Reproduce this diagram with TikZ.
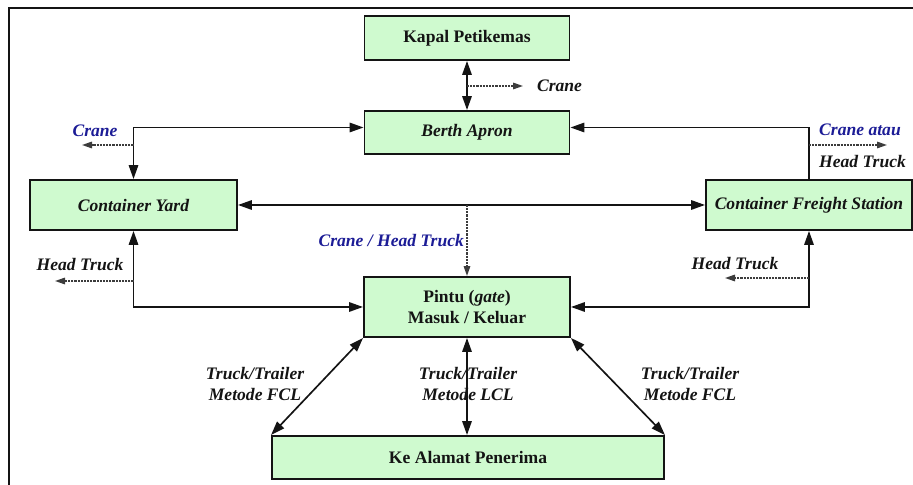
\documentclass[tikz,border=0pt]{standalone}
\usepackage{fontspec}
\setmainfont{Liberation Serif}
\usetikzlibrary{arrows.meta,positioning,calc}
\definecolor{ptkInk}{RGB}{20,20,20}
\definecolor{ptkGreen}{RGB}{207,250,207}
\definecolor{ptkBlue}{RGB}{28,28,150}
\definecolor{ptkDash}{RGB}{60,60,60}
\tikzset{
  pbox/.style={draw=ptkInk, fill=ptkGreen, line width=1.1pt, inner sep=0pt,
    align=center, font=\rmfamily\bfseries\fontsize{10}{12.5}\selectfont,
    text=ptkInk},
  pflow/.style={{Triangle[length=2.8mm,width=1.9mm]}-{Triangle[length=2.8mm,width=1.9mm]},
    line width=.95pt, draw=ptkInk},
  ponly/.style={-{Triangle[length=2.8mm,width=1.9mm]}, line width=.95pt, draw=ptkInk},
  pdash/.style={-{Triangle[length=2mm,width=1.3mm]}, line width=.9pt,
    draw=ptkDash, dash pattern=on 1.2pt off .6pt},
  plabel/.style={font=\rmfamily\bfseries\itshape\fontsize{10}{12.5}\selectfont,
    text=ptkInk, align=center, inner sep=1pt}
}

\begin{document}
\begin{tikzpicture}[
  blue/.style={plabel, text=ptkBlue}
]
\path[use as bounding box] (0,0) rectangle (18.26,9.70);
\draw[line width=1.2pt, draw=ptkInk] (0.18,0) -- (0.18,9.54) -- (18.26,9.54);

\node[pbox, minimum width=4.10cm, minimum height=.88cm] (kapal) at (9.34,8.94) {Kapal Petikemas};
\node[pbox, minimum width=4.10cm, minimum height=.86cm] (berth) at (9.34,7.05) {\itshape Berth Apron};
\node[pbox, minimum width=4.14cm, minimum height=1.00cm] (yard) at (2.67,5.60) {\itshape Container Yard};
\node[pbox, minimum width=4.12cm, minimum height=1.00cm] (cfs) at (16.18,5.60) {\itshape Container Freight Station};
\node[pbox, minimum width=4.12cm, minimum height=1.20cm] (pintu) at (9.34,3.56) {Pintu (\textit{gate})\\Masuk / Keluar};
\node[pbox, minimum width=7.84cm, minimum height=.86cm] (alamat) at (9.36,.55) {Ke Alamat Penerima};

\coordinate (kapalcrane) at (9.34,7.98);
\coordinate (kapalcraneend) at (10.46,7.98);
\coordinate (yardcrane) at (2.67,6.80);
\coordinate (yardcraneend) at (1.64,6.80);
\coordinate (cfscrane) at (16.18,6.80);
\coordinate (cfscraneend) at (17.74,6.80);
\coordinate (yardtruck) at (2.67,4.08);
\coordinate (yardtruckend) at (1.10,4.08);
\coordinate (cfstruck) at (16.18,4.14);
\coordinate (cfstruckend) at (14.50,4.14);
\coordinate (midyard) at (9.34,5.60);

\node[plabel, anchor=west] (lcrane) at (10.70,7.98) {Crane};
\node[blue] (lyardcrane) at (1.90,7.08) {Crane};
\node[blue] (lcfscrane) at (17.20,7.10) {Crane atau};
\node[plabel] (lcfscrane2) at (17.25,6.46) {Head Truck};
\node[blue, anchor=east] (lmid) at (9.32,4.88) {Crane / Head Truck};
\node[plabel] (lyardtruck) at (1.60,4.40) {Head Truck};
\node[plabel] (lcfstruck) at (14.70,4.42) {Head Truck};
\node[plabel] (lfclleft) at (5.10,2.02) {Truck/Trailer\\Metode FCL};
\node[plabel] (llcl) at (9.36,2.02) {Truck/Trailer\\Metode LCL};
\node[plabel] (lfclright) at (13.80,2.02) {Truck/Trailer\\Metode FCL};

\draw[pflow] (kapal.south) -- (berth.north);
\draw[pdash] (kapalcrane) -- (kapalcraneend);
\draw[pflow] ([yshift=.1cm]berth.west) -| (yard.north);
\draw[pdash] (yardcrane) -- (yardcraneend);
\draw[ponly] (cfs.north) |- ([yshift=.1cm]berth.east);
\draw[pdash] (cfscrane) -- (cfscraneend);
\draw[pflow] (yard.east) -- (cfs.west);
\draw[pdash] (midyard) -- (pintu.north);
\draw[pflow] (yard.south) |- (pintu.west);
\draw[pdash] (yardtruck) -- (yardtruckend);
\draw[pflow] (cfs.south) |- (pintu.east);
\draw[pdash] (cfstruck) -- (cfstruckend);
\draw[pflow] (pintu.south west) -- (alamat.north west);
\draw[pflow] (pintu.south) -- (pintu.south |- alamat.north);
\draw[pflow] (pintu.south east) -- (alamat.north east);
\end{tikzpicture}
\end{document}
